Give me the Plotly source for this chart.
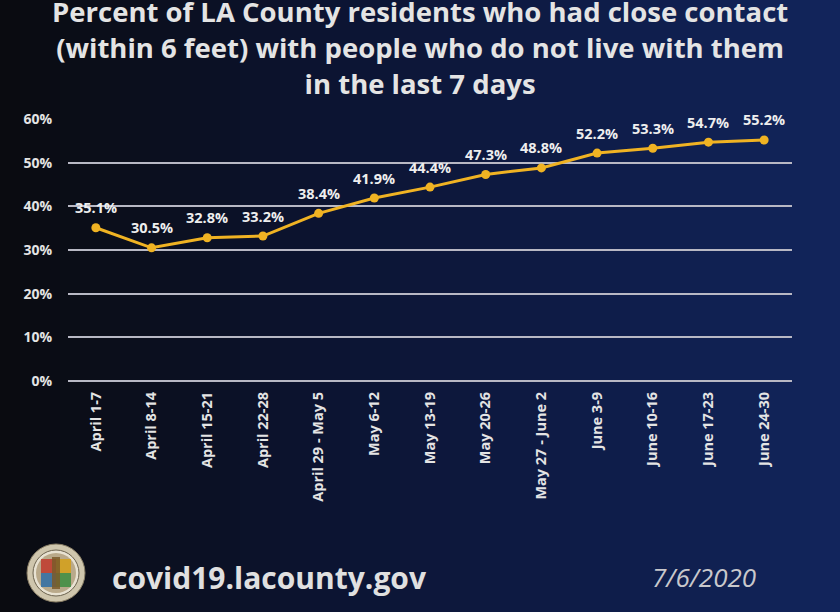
import plotly.graph_objects as go

# ---- data ----
weeks = ["April 1-7", "April 8-14", "April 15-21", "April 22-28", "April 29 - May 5",
         "May 6-12", "May 13-19", "May 20-26", "May 27 - June 2", "June 3-9",
         "June 10-16", "June 17-23", "June 24-30"]
pct = [35.1, 30.5, 32.8, 33.2, 38.4, 41.9, 44.4, 47.3, 48.8, 52.2, 53.3, 54.7, 55.2]
y_ticks = [0, 10, 20, 30, 40, 50, 60]
y_tick_text = ["0%", "10%", "20%", "30%", "40%", "50%", "60%"]

W, H = 840, 612
L, R, T, B = 68, 792, 119, 381  # plot area in pixels

def px(x):
    return (x - L) / (R - L)

def py(y):
    return (B - y) / (B - T)

FONT = "Open Sans"

fig = go.Figure()
fig.add_trace(go.Scatter(
    x=weeks, y=pct,
    mode="lines+markers",
    line=dict(color="#f0b323", width=3),
    marker=dict(color="#f0b323", size=9),
    cliponaxis=False,
    showlegend=False,
    hoverinfo="skip",
))

shapes = []
# background gradient strips
stops = [(0.0, (10, 11, 15)), (0.4, (12, 20, 50)), (0.7, (14, 28, 72)), (1.0, (18, 37, 92))]
def col(t):
    for (t0, c0), (t1, c1) in zip(stops[:-1], stops[1:]):
        if t <= t1:
            f = (t - t0) / (t1 - t0)
            return "rgb(%d,%d,%d)" % tuple(round(a + (b - a) * f) for a, b in zip(c0, c1))
    return "rgb(%d,%d,%d)" % stops[-1][1]
n = 84
for i in range(n):
    x0 = i * W / n
    x1 = (i + 1) * W / n + 1
    shapes.append(dict(type="rect", xref="paper", yref="paper",
                       x0=px(x0), x1=px(x1), y0=py(H), y1=py(0),
                       fillcolor=col((i + 0.5) / n), line=dict(width=0), layer="below"))

# logo seal (approximate)
cx, cy, r = 56, 573, 29
def circ(rr, fill, lc=None, lw=0):
    shapes.append(dict(type="circle", xref="paper", yref="paper",
                       x0=px(cx - rr), x1=px(cx + rr), y0=py(cy + rr), y1=py(cy - rr),
                       fillcolor=fill, line=dict(color=lc or fill, width=lw), layer="above"))
circ(r, "#cfc6ad", "#8a7f66", 1)
circ(r - 6, "#e8e2d2", "#6d6450", 1)
circ(r - 9, "#b9a98a")
for (x0, y0, x1, y1, c) in [(cx - 15, cy - 14, cx, cy, "#c0392b"), (cx, cy - 14, cx + 15, cy, "#d4a017"),
                            (cx - 15, cy, cx, cy + 14, "#2e6da4"), (cx, cy, cx + 15, cy + 14, "#3c8d40"),
                            (cx - 4, cy - 16, cx + 4, cy + 16, "#7a5a2a")]:
    shapes.append(dict(type="rect", xref="paper", yref="paper",
                       x0=px(x0), x1=px(x1), y0=py(y1), y1=py(y0),
                       fillcolor=c, line=dict(width=0), layer="above", opacity=0.85))

annotations = []
# data labels above points
for w, v in zip(weeks, pct):
    annotations.append(dict(text=f"{v:.1f}%", x=w, y=v, xref="x", yref="y",
                            xanchor="center", yanchor="middle", yshift=20, showarrow=False,
                            font=dict(family=FONT, size=14.5, color="#eeeeee", weight="bold")))
title = ("Percent of LA County residents who had close contact<br>"
         "(within 6 feet) with people who do not live with them<br>"
         "in the last 7 days")
annotations.append(dict(text=title, xref="paper", yref="paper", x=px(W / 2), y=py(48),
                        xanchor="center", yanchor="middle", showarrow=False,
                        font=dict(family=FONT, size=27.5, color="#e4e4e4", weight="bold")))
annotations.append(dict(text="covid19.lacounty.gov", xref="paper", yref="paper",
                        x=px(110), y=py(577), xanchor="left", yanchor="middle", showarrow=False,
                        font=dict(family=FONT, size=30, color="#e0e0e0", weight="bold")))
annotations.append(dict(text="<i>7/6/2020</i>", xref="paper", yref="paper",
                        x=px(758), y=py(577), xanchor="right", yanchor="middle", showarrow=False,
                        font=dict(family=FONT, size=26, color="#c8c8cc")))

fig.update_layout(
    width=W, height=H,
    margin=dict(l=L, r=W - R, t=T, b=H - B, pad=0),
    paper_bgcolor="#0c1020", plot_bgcolor="rgba(0,0,0,0)",
    shapes=shapes, annotations=annotations,
    xaxis=dict(type="category", range=[-0.5, len(weeks) - 0.5], tickangle=-90,
               showgrid=False, zeroline=False, showline=False,
               ticks="", ticklabelstandoff=7,
               tickfont=dict(family=FONT, size=14.5, color="#e4e4e4", weight="bold")),
    yaxis=dict(range=[0, 60], tickvals=y_ticks, ticktext=y_tick_text, showgrid=True,
               gridcolor="#b8b8c4", gridwidth=2, zeroline=True, zerolinecolor="#b8b8c4",
               zerolinewidth=2, showline=False, ticks="", ticklabelstandoff=15,
               tickfont=dict(family=FONT, size=14, color="#e4e4e4", weight="bold")),
)

fig.write_html("out.html")
